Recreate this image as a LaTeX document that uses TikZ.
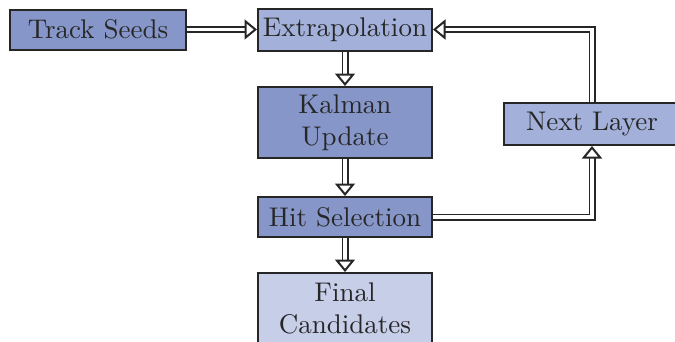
\documentclass[tikz,border=0pt]{standalone}
\usetikzlibrary{arrows.meta}
\definecolor{cdark}{RGB}{134,150,200}
\definecolor{cmid}{RGB}{162,176,218}
\definecolor{clight}{RGB}{198,206,232}
\begin{document}
\begin{tikzpicture}[x=0.4pt,y=-0.4pt,
  font=\fontsize{10.8}{13}\selectfont,
  box/.style={draw=black!85, line width=0.8pt, minimum width=174*0.4pt, inner sep=0pt, align=center, text=black!85},
  flow/.style={double=white, double distance=1.5pt, line width=0.65pt, draw=black!85,
     -{Triangle[open, length=5pt, width=8pt, line width=0.8pt]}}]
\useasboundingbox (0,0) rectangle (675,341);
\node[box, fill=cdark, minimum height=40*0.4pt, minimum width=176*0.4pt] (seeds) at (98,29.5) {Track Seeds};
\node[box, fill=cmid, minimum height=42*0.4pt] (extrap) at (345,29.5) {Extrapolation};
\node[box, fill=cdark, minimum height=71*0.4pt] (kalman) at (345,122.5) {Kalman\\Update};
\node[box, fill=cdark, minimum height=40*0.4pt] (hit) at (345,217) {Hit Selection};
\node[box, fill=clight, minimum height=71*0.4pt] (final) at (345,308.5) {Final\\Candidates};
\node[box, fill=cmid, minimum height=42*0.4pt, minimum width=176*0.4pt] (next) at (592,124) {Next Layer};
\draw[flow] (seeds) -- (extrap);
\draw[flow] (extrap) -- (kalman);
\draw[flow] (kalman) -- (hit);
\draw[flow] (hit) -- (final);
\draw[flow] (hit.east) -| (next.south);
\draw[flow] (next.north) |- (extrap.east);
\end{tikzpicture}
\end{document}
